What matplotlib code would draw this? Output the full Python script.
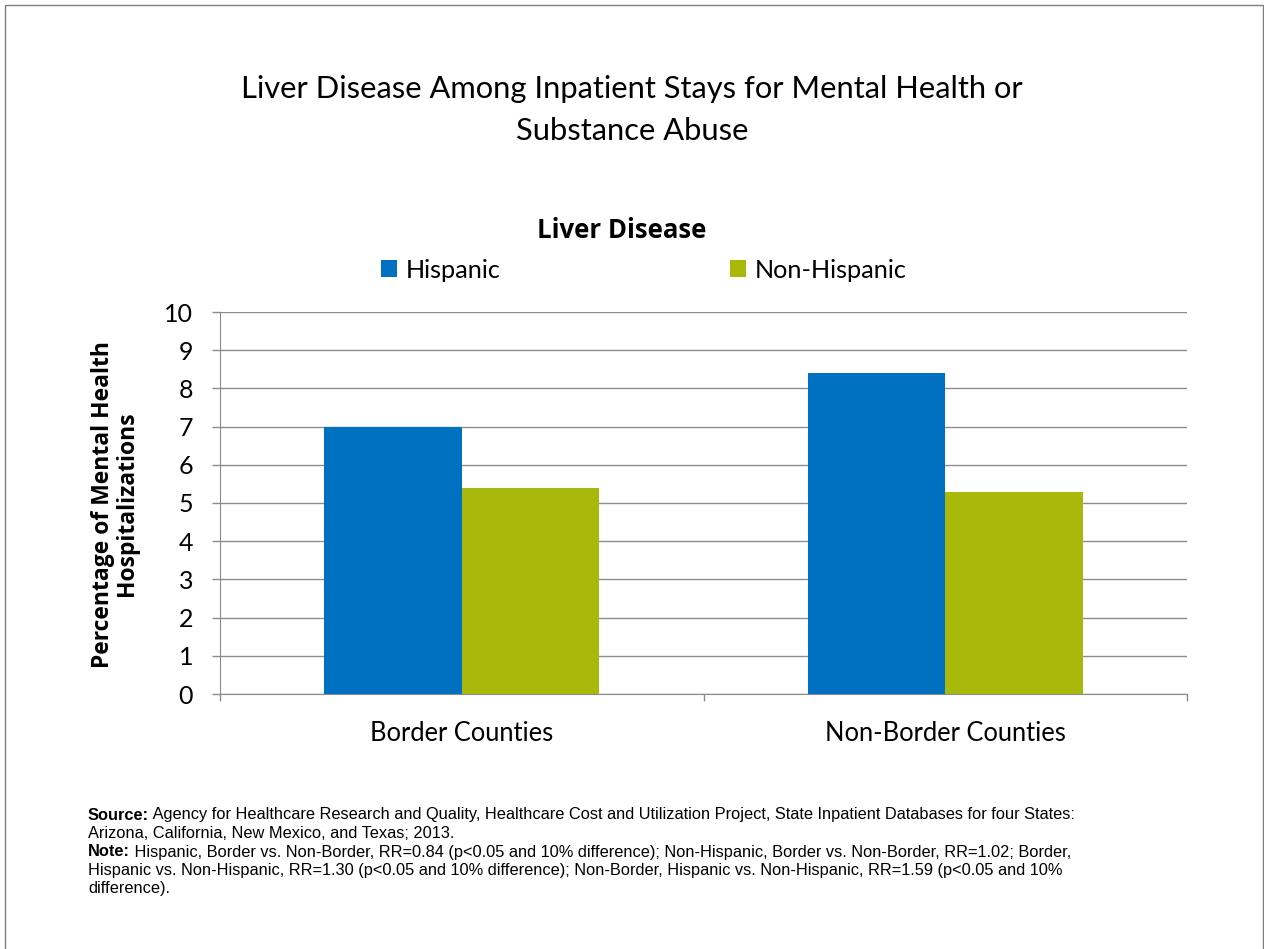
import matplotlib
matplotlib.use("Agg")
import matplotlib.pyplot as plt
from matplotlib.patches import Rectangle
import numpy as np

categories = ["Border Counties", "Non-Border Counties"]
series_names = ["Hispanic", "Non-Hispanic"]
hispanic = [7.0, 8.4]
non_hispanic = [5.4, 5.3]
y_ticks = [0, 1, 2, 3, 4, 5, 6, 7, 8, 9, 10]

title = "Liver Disease Among Inpatient Stays for Mental Health or\nSubstance Abuse"
chart_title = "Liver Disease"
y_label = "Percentage of Mental Health\nHospitalizations"
source_lines = [
    ("Source:", " Agency for Healthcare Research and Quality, Healthcare Cost and Utilization Project, State Inpatient Databases for four States:"),
    ("", "Arizona, California, New Mexico, and Texas; 2013."),
    ("Note:", " Hispanic, Border vs. Non-Border, RR=0.84 (p<0.05 and 10% difference); Non-Hispanic, Border vs. Non-Border, RR=1.02; Border,"),
    ("", "Hispanic vs. Non-Hispanic, RR=1.30 (p<0.05 and 10% difference); Non-Border, Hispanic vs. Non-Hispanic, RR=1.59 (p<0.05 and 10%"),
    ("", "difference)."),
]

BLUE = "#0070C0"
GREEN = "#A9B90B"
GRID = "#8C8C8C"
MAIN_FONT = ["Lato", "DejaVu Sans"]
BOLD_FONT = ["Open Sans", "DejaVu Sans"]
NOTE_FONT = ["Liberation Sans", "DejaVu Sans"]

W, H = 1264, 949
fig = plt.figure(figsize=(W / 100, H / 100), dpi=100)
fig.patch.set_facecolor("white")

# outer frame
fig.add_artist(Rectangle((4.5 / W, -0.01), (1263 - 4.5) / W, 1 - 5 / H + 0.01,
                         transform=fig.transFigure, fill=False,
                         edgecolor="#7F7F7F", linewidth=1.0))

def fx(px):
    return px / W

def fy(py):
    return 1 - py / H

ax = fig.add_axes([fx(220), fy(694), fx(1187) - fx(220), (694 - 312) / H])

x = np.arange(len(categories))
bw = 0.284
ax.bar(x - bw / 2, hispanic, bw, color=BLUE, label=series_names[0], zorder=3)
ax.bar(x + bw / 2, non_hispanic, bw, color=GREEN, label=series_names[1], zorder=3)

ax.set_xlim(-0.5, 1.5)
ax.set_ylim(0, 10)
ax.set_yticks(y_ticks)
ax.set_yticklabels([str(t) for t in y_ticks], fontsize=18, family=MAIN_FONT)
ax.yaxis.grid(True, color=GRID, linewidth=1.0, zorder=0)
ax.set_axisbelow(True)

ax.set_xticks([-0.5, 0.5, 1.5])
ax.set_xticklabels(["", "", ""])
ax.tick_params(axis="x", length=5, color=GRID, width=1.0)
ax.tick_params(axis="y", length=5.8, color=GRID, width=1.0, pad=13.5)
for i, c in enumerate(categories):
    ax.text(x[i], -0.7, c, ha="center", va="top", fontsize=18.4,
            family=MAIN_FONT, transform=ax.transData)

for s in ["top", "right"]:
    ax.spines[s].set_visible(False)
ax.spines["left"].set_color(GRID)
ax.spines["bottom"].set_color(GRID)

# y-axis label
fig.text(fx(115), fy(504), y_label, rotation=90, ha="center", va="center",
         fontsize=16.5, fontweight="bold", family=BOLD_FONT, linespacing=1.05)

# titles
fig.text(fx(632), fy(110), title, ha="center", va="center", fontsize=22.2,
         family=MAIN_FONT, linespacing=1.58)
fig.text(fx(622), fy(230), chart_title, ha="center", va="center", fontsize=18.5,
         fontweight="bold", family=BOLD_FONT)

# legend
leg = fig.legend(handles=ax.patches[:1] + ax.patches[2:3], labels=series_names,
                 loc="center", bbox_to_anchor=(fx(644), fy(270)), ncol=2,
                 frameon=False, prop={"family": MAIN_FONT, "size": 18.2},
                 handlelength=0.62, handleheight=0.62, handletextpad=0.35,
                 columnspacing=9.07)

# footnote
y0 = 815
NOTE_SIZE = 11.8
for i, (bold, rest) in enumerate(source_lines):
    yy = fy(y0 + i * 18.5)
    if bold:
        t = fig.text(fx(88), yy, bold, ha="left", va="center", fontsize=NOTE_SIZE,
                     fontweight="bold", family=NOTE_FONT)
        fig.canvas.draw()
        bb = t.get_window_extent()
        fig.text(bb.x1 / W, yy, rest, ha="left", va="center", fontsize=NOTE_SIZE,
                 family=NOTE_FONT)
    else:
        fig.text(fx(88), yy, rest, ha="left", va="center", fontsize=NOTE_SIZE,
                 family=NOTE_FONT)

fig.savefig("out.png", dpi=100, facecolor="white")
